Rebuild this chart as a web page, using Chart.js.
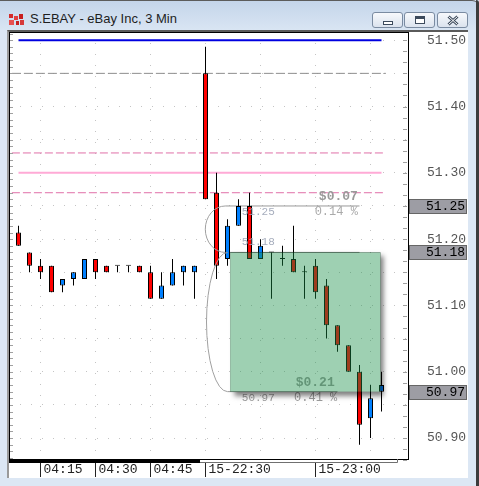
<!DOCTYPE html>
<html>
<head>
<meta charset="utf-8">
<script src="https://cdn.jsdelivr.net/npm/chart.js@4.4.1/dist/chart.umd.min.js"></script>
<style>
  body { margin:0; width:479px; height:486px; overflow:hidden; position:relative; background:#dce7f4; font-family:"Liberation Sans", Arial, sans-serif; }
  #titlebar { position:absolute; left:0; top:0; width:479px; height:30px; background:linear-gradient(#c4d5ea,#d9e5f3); border-top:1px solid #5c5c5c; border-top-right-radius:7px; box-sizing:border-box; }
  #title { position:absolute; left:30px; top:10px; font-size:13px; color:#1e1e1e; white-space:nowrap; }
  #icon { position:absolute; left:9px; top:13px; }
  .btn { position:absolute; top:11px; height:16px; width:31px; border:1px solid #7a8ba1; border-radius:3px; background:linear-gradient(#f7f9fc,#dbe3ee); box-sizing:border-box; }
  .btn svg { position:absolute; left:0; top:0; }
  #panel { position:absolute; left:7px; top:30px; width:461px; height:448px; background:#fff; border-left:2px solid #9a9a9a; border-top:2px solid #5a5a5a; box-sizing:border-box; }
  #edge { position:absolute; right:0; top:0; width:3px; height:486px; background:#3c3c3c; border-top-right-radius:6px; }
  canvas { position:absolute; left:0; top:0; }
</style>
</head>
<body>
<div id="titlebar">
  <svg id="icon" width="15" height="12">
    <rect x="0" y="0" width="4" height="4" fill="#d42a2a"/><rect x="5" y="2" width="4" height="4" fill="#e04040"/>
    <rect x="10" y="0" width="4" height="5" fill="#c81e1e"/><rect x="0" y="6" width="5" height="5" fill="#e65050"/>
    <rect x="7" y="7" width="3" height="4" fill="#c82020"/><rect x="11" y="6" width="4" height="5" fill="#d63a3a"/>
  </svg>
  <div id="title">S.EBAY - eBay Inc, 3 Min</div>
  <div class="btn" style="left:372px"><svg width="31" height="16"><rect x="10.5" y="8.5" width="9" height="3" fill="#fff" stroke="#3c4a5c"/></svg></div>
  <div class="btn" style="left:404px"><svg width="31" height="16"><rect x="10.5" y="3.5" width="9" height="7" fill="#fff" stroke="#3c4a5c"/><line x1="11" y1="5" x2="19" y2="5" stroke="#3c4a5c" stroke-width="2"/></svg></div>
  <div class="btn" style="left:437px"><svg width="31" height="16"><path d="M10.5 3.5 L19.5 11.5 M19.5 3.5 L10.5 11.5" stroke="#3c4a5c" stroke-width="3"/><path d="M10.5 3.5 L19.5 11.5 M19.5 3.5 L10.5 11.5" stroke="#fff" stroke-width="1"/></svg></div>
</div>
<div id="edge"></div>
<div id="panel"></div>
<canvas id="chart" width="479" height="486"></canvas>
<script>
// 3 minute candles, oldest first
const opens  = [51.21, 51.18, 51.16, 51.16, 51.13, 51.14, 51.14, 51.17, 51.16, 51.16, 51.16, 51.16, 51.15, 51.11, 51.13, 51.15, 51.15,
                51.45, 51.27, 51.17, 51.22, 51.25, 51.17, 51.18, 51.17, 51.17, 51.15, 51.16, 51.13, 51.07, 51.04, 51.00, 50.93, 50.97];
const highs  = [51.22, 51.18, 51.17, 51.16, 51.14, 51.15, 51.17, 51.17, 51.16, 51.16, 51.16, 51.16, 51.16, 51.15, 51.17, 51.16, 51.16,
                51.49, 51.30, 51.23, 51.26, 51.27, 51.20, 51.18, 51.19, 51.22, 51.16, 51.17, 51.14, 51.07, 51.04, 51.01, 50.98, 51.00];
const lows   = [51.19, 51.15, 51.14, 51.12, 51.12, 51.13, 51.14, 51.14, 51.15, 51.15, 51.15, 51.15, 51.11, 51.11, 51.13, 51.13, 51.11,
                51.26, 51.14, 51.16, 51.22, 51.17, 51.17, 51.11, 51.16, 51.15, 51.11, 51.11, 51.05, 51.03, 51.00, 50.89, 50.90, 50.94];
const closes = [51.19, 51.16, 51.15, 51.12, 51.14, 51.15, 51.17, 51.15, 51.15, 51.16, 51.16, 51.15, 51.11, 51.13, 51.15, 51.16, 51.16,
                51.26, 51.16, 51.22, 51.25, 51.17, 51.19, 51.18, 51.17, 51.15, 51.15, 51.12, 51.07, 51.04, 51.00, 50.92, 50.96, 50.98];

const xTickIdx    = [2, 7, 12, 17, 22, 27, 32];
const xTickLabels = ['04:15', '04:30', '04:45', '15-22:30', '', '15-23:00', ''];
const yTickVals   = [50.90, 50.95, 51.00, 51.05, 51.10, 51.15, 51.20, 51.25, 51.30, 51.35, 51.40, 51.45, 51.50];

// horizontal study lines
const levelPrices   = [51.50, 51.45, 51.33, 51.30, 51.27];
// measure tool: top, middle, bottom prices
const measurePrices = [51.25, 51.18, 50.97];
const measureTexts  = ['$0.07', '0.14 %', '51.25', '51.18', '$0.21', '50.97', '0.41 %'];
// price flags on the axis
const markerPrices  = [51.25, 51.18, 50.97];

const MONO = '"Liberation Mono", "DejaVu Sans Mono", monospace';
Chart.defaults.font.family = MONO;

const idx = opens.map((_, i) => i);
const bodyColor = idx.map(i => closes[i] > opens[i] ? '#0080ff' : closes[i] < opens[i] ? '#ff0000' : '#000');

const levelStyle = [
  {color: '#0000e0', width: 2, dash: [], from: 0, to: 33},
  {color: '#8e8e8e', width: 1, dash: [9, 3], from: -0.6, to: 33.4},
  {color: '#e070a8', width: 1, dash: [8, 3], from: -0.6, to: 33.4},
  {color: '#ffaad6', width: 2, dash: [], from: 0, to: 33},
  {color: '#e070a8', width: 1, dash: [8, 3], from: -0.6, to: 33.4}
];
const measureSpan = [[18.8, 31], [18.8, 31], [19, 29]];

const lineSets = levelPrices.map((p, k) => ({
  type: 'line',
  data: [{x: levelStyle[k].from, y: p}, {x: levelStyle[k].to, y: p}],
  borderColor: levelStyle[k].color,
  borderWidth: levelStyle[k].width,
  borderDash: levelStyle[k].dash,
  pointRadius: 0,
  order: 5
})).concat(measurePrices.map((p, k) => ({
  type: 'line',
  data: [{x: measureSpan[k][0], y: p}, {x: measureSpan[k][1], y: p}],
  borderColor: '#999',
  borderWidth: 1,
  pointRadius: 0,
  order: 4
})));

const overlay = {
  id: 'overlay',
  afterDatasetsDraw(chart) {
    const {ctx, chartArea: a, scales: {x, y}} = chart;
    ctx.save();
    ctx.beginPath();
    ctx.rect(a.left, a.top, a.width, a.height);
    ctx.clip();

    // measure curves
    ctx.strokeStyle = '#a0a0a0';
    ctx.lineWidth = 1;
    const arc = (xi, p1, p2, rx) => {
      const y1 = y.getPixelForValue(p1), y2 = y.getPixelForValue(p2);
      ctx.beginPath();
      ctx.ellipse(x.getPixelForValue(xi), (y1 + y2) / 2, rx, Math.abs(y2 - y1) / 2, 0, Math.PI / 2, Math.PI * 1.5);
      ctx.stroke();
    };
    arc(18.8, measurePrices[0], measurePrices[1], 20);
    arc(19.0, measurePrices[1], measurePrices[2], 21);

    // measure texts
    ctx.textBaseline = 'middle';
    const note = (t, xi, p, dy, align, font, color) => {
      ctx.font = font;
      ctx.fillStyle = color;
      ctx.textAlign = align;
      ctx.fillText(t, x.getPixelForValue(xi), y.getPixelForValue(p) + dy);
    };
    note(measureTexts[0], 30.85, measurePrices[0], -9, 'right', 'bold 13px ' + MONO, '#9a9a9a');
    note(measureTexts[1], 30.85, measurePrices[0], 6, 'right', '12px ' + MONO, '#aaaaaa');
    note(measureTexts[2], 20.3, measurePrices[0], 6, 'left', '11px ' + MONO, '#a6adbd');
    note(measureTexts[3], 20.3, measurePrices[1], -10, 'left', '11px ' + MONO, '#a6adbd');
    note(measureTexts[4], 25.2, measurePrices[2], -9, 'left', 'bold 13px ' + MONO, '#9a9a9a');
    note(measureTexts[5], 20.3, measurePrices[2], 6, 'left', '11px ' + MONO, '#9c9c9c');
    note(measureTexts[6], 25.05, measurePrices[2], 6, 'left', '12px ' + MONO, '#9c9c9c');

    // green measure box with its shadow
    const bx = x.getPixelForValue(19.25), bx2 = x.getPixelForValue(32.9);
    const by = y.getPixelForValue(measurePrices[1]), by2 = y.getPixelForValue(measurePrices[2]);
    ctx.save();
    ctx.beginPath();
    ctx.rect(a.left, a.top, a.width, a.height);
    ctx.rect(bx, by, bx2 - bx, by2 - by);
    ctx.clip('evenodd');
    ctx.shadowColor = 'rgba(0,0,0,0.5)';
    ctx.shadowBlur = 5;
    ctx.shadowOffsetX = 4;
    ctx.shadowOffsetY = 4;
    ctx.fillStyle = '#000';
    ctx.fillRect(bx, by, bx2 - bx, by2 - by);
    ctx.restore();
    ctx.fillStyle = 'rgba(24,143,71,0.42)';
    ctx.fillRect(bx, by, bx2 - bx, by2 - by);
    ctx.restore();
  },
  afterDraw(chart) {
    const {ctx, chartArea: a, scales: {y}} = chart;
    ctx.save();
    // minor ticks on the edges
    ctx.strokeStyle = '#a0a0a0';
    ctx.lineWidth = 1;
    ctx.beginPath();
    for (let c = 5087; c <= 5151; c++) {
      const py = Math.round(y.getPixelForValue(c / 100)) + 0.5;
      ctx.moveTo(a.left + 1, py); ctx.lineTo(a.left + 4, py);
    }
    for (let k = 0; k <= 38; k++) {
      const py = Math.round(y.getPixelForValue(51.5 - k / 60)) + 0.5;
      ctx.moveTo(a.right - 5, py); ctx.lineTo(a.right - 1, py);
    }
    ctx.stroke();

    // plot frame
    ctx.strokeStyle = '#000';
    ctx.strokeRect(a.left + 0.5, a.top + 0.5, a.right - a.left, a.bottom - a.top);

    // scroll strip under the plot
    ctx.fillStyle = '#fff';
    ctx.fillRect(200, a.bottom + 1, 197, 2);
    ctx.fillStyle = '#000';
    ctx.fillRect(a.left, a.bottom, 191, 4);
    ctx.strokeStyle = '#707070';
    ctx.beginPath();
    ctx.moveTo(200, a.bottom + 3.5); ctx.lineTo(397.5, a.bottom + 3.5); ctx.lineTo(397.5, a.bottom);
    ctx.stroke();

    // price flags
    ctx.font = '13px ' + MONO;
    ctx.textAlign = 'right';
    ctx.textBaseline = 'middle';
    markerPrices.forEach(p => {
      const py = Math.round(y.getPixelForValue(p));
      ctx.fillStyle = '#9d9da4';
      ctx.fillRect(409, py - 7, 58, 15);
      ctx.strokeStyle = '#666';
      ctx.strokeRect(409.5, py - 6.5, 57, 14);
      ctx.fillStyle = '#000';
      ctx.fillText(p.toFixed(2), 465, py + 1);
    });
    ctx.restore();
  }
};

new Chart(document.getElementById('chart'), {
  type: 'bar',
  data: {
    datasets: [
      {
        data: idx.map(i => ({x: i, y: [opens[i], closes[i]]})),
        backgroundColor: bodyColor,
        borderColor: '#000',
        borderWidth: 1,
        borderSkipped: false,
        barThickness: 5,
        minBarLength: 1,
        inflateAmount: 0,
        grouped: false,
        order: 0
      },
      {
        data: idx.map(i => ({x: i, y: [lows[i], highs[i]]})),
        backgroundColor: '#000',
        borderWidth: 0,
        barThickness: 1,
        inflateAmount: 0,
        grouped: false,
        order: 1
      }
    ].concat(lineSets)
  },
  options: {
    responsive: false,
    animation: false,
    events: [],
    layout: {padding: {left: 9, top: 32, right: 0, bottom: 0}},
    plugins: {legend: {display: false}, tooltip: {enabled: false}},
    scales: {
      x: {
        type: 'linear',
        min: -0.8636,
        max: 35.409,
        offset: false,
        afterFit: s => { s.height = 27; },
        afterBuildTicks: s => { s.ticks = xTickIdx.map(v => ({value: v})); },
        grid: {
          offset: false,
          color: '#c4c4c4',
          tickLength: 18,
          tickColor: c => xTickLabels[c.index] ? '#222' : 'rgba(0,0,0,0)',
          tickBorderDash: []
        },
        border: {display: false, dash: [1, 10]},
        ticks: {
          autoSkip: false,
          maxRotation: 0,
          align: 'start',
          labelOffset: 3,
          padding: -15,
          color: '#222',
          font: {size: 13},
          callback: (v, i) => xTickLabels[i]
        }
      },
      y: {
        position: 'right',
        min: 50.8684,
        max: 51.5124,
        afterFit: s => { s.width = 71; },
        afterBuildTicks: s => { s.ticks = yTickVals.map(v => ({value: v})); },
        grid: {color: '#c4c4c4', drawTicks: false},
        border: {display: false, dash: [1, 10]},
        ticks: {
          padding: 19,
          crossAlign: 'near',
          color: '#555',
          font: {size: 13},
          callback: v => Math.round(v * 100) % 10 === 0 ? v.toFixed(2) : ''
        }
      }
    }
  },
  plugins: [overlay]
});
</script>
</body>
</html>
